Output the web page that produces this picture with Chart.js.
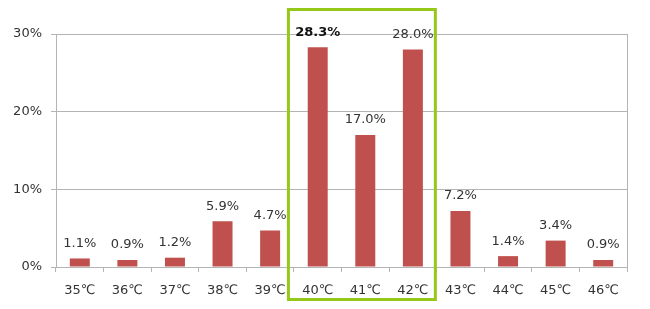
<!DOCTYPE html>
<html>
<head>
<meta charset="utf-8">
<script src="https://cdn.jsdelivr.net/npm/chart.js@4/dist/chart.umd.min.js"></script>
<style>
  html, body { margin: 0; padding: 0; background: #fff; }
  #wrap { width: 650px; height: 309px; }
</style>
</head>
<body>
<div id="wrap"><canvas id="tempChart"></canvas></div>
<script>
const categories = ["35℃", "36℃", "37℃", "38℃", "39℃", "40℃", "41℃", "42℃", "43℃", "44℃", "45℃", "46℃"];
const shares = [1.1, 0.9, 1.2, 5.9, 4.7, 28.3, 17.0, 28.0, 7.2, 1.4, 3.4, 0.9];
const yTicks = [0, 10, 20, 30];
const boldIndex = 5;
const boxFrom = 5;
const boxTo = 7;

const font = "'DejaVu Sans', Verdana, sans-serif";
const gridColor = "#b4b4b4";

// value labels above each bar
const valueLabels = {
  id: "valueLabels",
  afterDatasetsDraw(chart) {
    const ctx = chart.ctx;
    const meta = chart.getDatasetMeta(0);
    ctx.save();
    ctx.textAlign = "center";
    ctx.textBaseline = "middle";
    meta.data.forEach((bar, i) => {
      ctx.font = (i === boldIndex ? "bold " : "") + "13px " + font;
      ctx.fillStyle = i === boldIndex ? "#111" : "#333";
      ctx.fillText(shares[i].toFixed(1) + "%", bar.x, bar.y - 15);
    });
    ctx.restore();
  },
};

// green frame around the highlighted columns
const highlightBox = {
  id: "highlightBox",
  afterDraw(chart) {
    const x = chart.scales.x;
    const catW = x.getPixelForValue(1) - x.getPixelForValue(0);
    const left = x.getPixelForValue(boxFrom) - catW / 2 - 5.5;
    const right = x.getPixelForValue(boxTo) + catW / 2 - 1.3;
    const ctx = chart.ctx;
    ctx.save();
    ctx.strokeStyle = "#96c81a";
    ctx.lineWidth = 3;
    ctx.strokeRect(left, 9.5, right - left, 290);
    ctx.restore();
  },
};

new Chart(document.getElementById("tempChart"), {
  type: "bar",
  data: {
    labels: categories,
    datasets: [
      {
        data: shares,
        backgroundColor: "#c0504d",
        barPercentage: 0.42,
        categoryPercentage: 1,
      },
    ],
  },
  options: {
    responsive: true,
    maintainAspectRatio: false,
    animation: false,
    layout: { padding: { top: 34, right: 23, left: 0, bottom: 0 } },
    plugins: {
      legend: { display: false },
      tooltip: { enabled: false },
    },
    scales: {
      x: {
        offset: true,
        grid: {
          offset: true,
          drawOnChartArea: false,
          tickLength: 5,
          color: gridColor,
        },
        border: { color: gridColor },
        ticks: {
          color: "#333",
          font: { family: font, size: 13 },
          padding: 11,
          maxRotation: 0,
        },
        afterFit(scale) {
          scale.height = 42;
        },
      },
      y: {
        min: 0,
        max: 30,
        afterBuildTicks(scale) {
          scale.ticks = yTicks.map((v) => ({ value: v }));
        },
        grid: { color: gridColor, tickLength: 5 },
        border: { color: gridColor },
        ticks: {
          color: "#333",
          font: { family: font, size: 13 },
          padding: 9,
          callback: (v) => v + "%",
        },
        afterFit(scale) {
          scale.width = 56;
        },
      },
      y2: {
        position: "right",
        min: 0,
        max: 30,
        grid: { display: false },
        border: { display: true, color: gridColor },
        ticks: { display: false },
        afterFit(scale) {
          scale.width = 0;
        },
      },
    },
  },
  plugins: [valueLabels, highlightBox],
});
</script>
</body>
</html>
